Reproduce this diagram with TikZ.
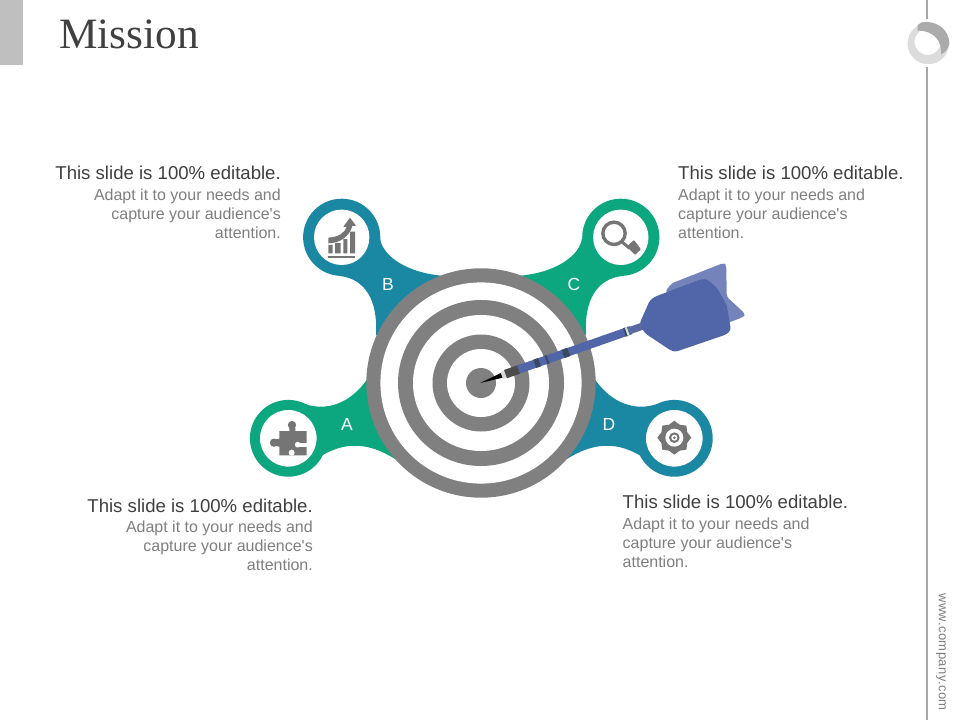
\documentclass[tikz,border=0pt]{standalone}
\usepackage{fontspec}
\newfontfamily\plainsans{Liberation Sans}
\newfontfamily\titlefont{Liberation Serif}
\definecolor{tealc}{HTML}{1A87A3}
\definecolor{greenc}{HTML}{0CA67F}
\definecolor{ringc}{HTML}{808080}
\definecolor{iconc}{HTML}{757575}
\definecolor{dartc}{HTML}{5166A8}
\definecolor{dartl}{HTML}{7484BA}
\definecolor{bandc}{HTML}{3A4A62}
\definecolor{headc}{HTML}{404040}
\definecolor{bodyc}{HTML}{7F7F7F}
\definecolor{barc}{HTML}{BFBFBF}
\definecolor{railc}{HTML}{A6A6A6}
\definecolor{logol}{HTML}{DCDCDC}
\definecolor{logod}{HTML}{ABABAB}
\newcommand{\blurb}{Adapt it to your needs and\\capture your audience's\\attention.}
\tikzset{
  headtext/.style={text=headc,font=\plainsans\fontsize{18.6}{21}\selectfont,inner sep=0pt},
  bodytext/.style={text=bodyc,font=\plainsans\fontsize{16}{19}\selectfont,inner sep=0pt},
  lettertext/.style={text=white,font=\plainsans\fontsize{17.5}{20}\selectfont,inner sep=0pt},
  zoomed/.style={x=0.3333pt,y=-0.3333pt},
}
\begin{document}
\begin{tikzpicture}[x=1pt,y=-1pt]
\useasboundingbox (0,0) rectangle (960,720);
\fill[white] (0,0) rectangle (960,720);
% frame
\fill[barc] (0,0) rectangle (23,65);
\node[anchor=base west,inner sep=0pt,text=headc,font=\titlefont\fontsize{43.3}{48}\selectfont] (title) at (59,48) {Mission};
\draw[railc,line width=2pt] (927,0) -- (927,19);
\draw[railc,line width=2pt] (927,67) -- (927,720);
% logo
\fill[logol,even odd rule] (928.3,43.5) circle (20.7) (927.7,41.7) circle (13.2);
\begin{scope}[shift={(880,0)},zoomed]
\fill[logod] (113,75) -- (125,67) .. controls (165,60) and (207,85) .. (208,130) .. controls (206,145) and (195,158) .. (183,163) .. controls (186,125) and (165,92) .. (113,92) -- cycle;
\end{scope}
\node[rotate=-90,inner sep=0pt,text=bodyc,font=\plainsans\fontsize{13}{15}\selectfont\addfontfeature{LetterSpace=3.5}] (url) at (941,652) {www.company.com};
% blobs
\fill[greenc] (288.3,438.3) circle (38.4);
\fill[greenc] (305,404) .. controls (325,411) and (350,405) .. (368,378) -- (481,383) -- (395,459) .. controls (370,443) and (345,440) .. (318,458) -- cycle;
\fill[tealc] (341.7,237.3) circle (38.6);
\fill[tealc] (380,238) .. controls (382,255) and (405,273) .. (445,276) -- (481,383) -- (376,335) .. controls (378,300) and (365,279) .. (340,276) -- cycle;
\fill[greenc] (620.8,237.3) circle (38.6);
\fill[greenc] (582,238) .. controls (580,255) and (557,273) .. (517,276) -- (481,383) -- (586,335) .. controls (584,300) and (597,279) .. (622,276) -- cycle;
\fill[tealc] (674.3,438.3) circle (38.4);
\fill[tealc] (657,404) .. controls (637,411) and (612,405) .. (594,378) -- (481,383) -- (567,459) .. controls (592,443) and (617,440) .. (644,458) -- cycle;
\fill[white] (288.3,438.3) circle (28.3) (341.7,237.3) circle (27.7) (620.8,237.3) circle (27.7) (674.3,438.3) circle (28.3);
\node[lettertext] (la) at (347,424) {A};
\node[lettertext] (lb) at (388,284) {B};
\node[lettertext] (lc) at (574,284) {C};
\node[lettertext] (ld) at (609,424) {D};
% target
\fill[ringc] (481,383) circle (114.7);
\fill[white] (481,383) circle (100.6);
\fill[ringc] (481,383) circle (83);
\fill[white] (481,383) circle (68);
\fill[ringc] (481,383) circle (48.5);
\fill[white] (481,383) circle (34);
\fill[ringc] (481,383) circle (15);
% chart icon
\begin{scope}[shift={(310,205)},zoomed]
\fill[iconc] (55,153) rectangle (135,160);
\fill[iconc] (55,120) rectangle (68,145) (75,114) rectangle (92,145) (100,102) rectangle (112,145) (120,80) rectangle (135,145);
\fill[iconc] (55,98) .. controls (85,96) and (104,84) .. (110,66) -- (100,65) -- (120,38) -- (138,62) -- (127,63) .. controls (118,94) and (92,114) .. (55,115) -- cycle;
\end{scope}
% puzzle icon
\begin{scope}[shift={(256,406)},zoomed]
\fill[iconc] (70,75) -- (100,75) -- (100,66) -- (118,66) -- (118,75) -- (152,75) -- (152,148) -- (70,148) -- (70,122) -- (60,120) -- (60,100) -- (70,98) -- cycle;
\fill[iconc] (108,57) circle (12.5) (54,110) circle (12.5);
\fill[white] (107,140) circle (9);
\fill[white] (125,116) circle (8.5);
\fill[white] (125,110) rectangle (153,122);
\end{scope}
% magnifier icon
\begin{scope}[shift={(589,205)},zoomed]
\draw[iconc,line width=3.4pt] (75,85) circle (33.5);
\draw[iconc,line width=3pt] (98,110) -- (122,130);
\fill[iconc,rounded corners=1pt] (113,125) -- (135,105) -- (156,133) -- (138,150) -- cycle;
\end{scope}
% gear icon
\begin{scope}[shift={(642,406)},zoomed]
\fill[iconc] (147,95)
  \foreach \a in {22.5,45,...,360} {
    -- ({97+(mod(\a,45)==0 ? 51 : 42)*cos(\a)},{95+(mod(\a,45)==0 ? 51 : 42)*sin(\a)})
  } -- cycle;
\fill[white] (97,95) circle (27);
\fill[iconc] (97,95) circle (16);
\fill[white] (97,95) circle (9);
\fill[iconc] (97,95) circle (4.5);
\end{scope}
% dart
\begin{scope}[shift={(630,255)},zoomed]
\fill[dartl,rounded corners=3pt] (105,110) -- (125,85) -- (280,24) -- (289,30) -- (290,125) -- (346,177) -- (340,186) -- (290,205) -- (200,170) -- cycle;
\fill[dartc,rounded corners=3pt] (28,207) -- (60,135) -- (75,125) -- (215,72) -- (232,73) -- (262,100) -- (290,150) -- (303,225) -- (290,238) -- (135,291) -- (120,285) -- (45,235) -- cycle;
\end{scope}
\begin{scope}[shift={(480,383)},rotate=19.3]
\fill[black] (0,0) -- (24,-2.6) -- (24,2.6) -- cycle;
\fill[black!15] (23,-3.6) rectangle (27,3.6);
\fill[black!70] (27,-4.4) rectangle (41,4.4);
\fill[dartc] (41,-4.2) rectangle (160,4.2);
\fill[dartc!85!gray] (156,-3.6) rectangle (172,3.6);
\fill[bandc] (58,-4.4) rectangle (63,4.4) (70,-4.4) rectangle (72,4.4) (88,-4.4) rectangle (94,4.4) (153,-4.4) rectangle (155,4.4);
\fill[black!15] (155,-4.2) rectangle (157,4.2);
\end{scope}
% texts
\node[headtext,anchor=base east] (h1) at (281,179) {This slide is 100\% editable.};
\node[bodytext,anchor=north east,align=right] (b1) at (281,189) {\blurb};
\node[headtext,anchor=base west] (h2) at (678,179) {This slide is 100\% editable.};
\node[bodytext,anchor=north west,align=left] (b2) at (678,189) {\blurb};
\node[headtext,anchor=base east] (h3) at (313,512) {This slide is 100\% editable.};
\node[bodytext,anchor=north east,align=right] (b3) at (313,521) {\blurb};
\node[headtext,anchor=base west] (h4) at (622.5,508) {This slide is 100\% editable.};
\node[bodytext,anchor=north west,align=left] (b4) at (622.5,518) {\blurb};
\end{tikzpicture}
\end{document}
